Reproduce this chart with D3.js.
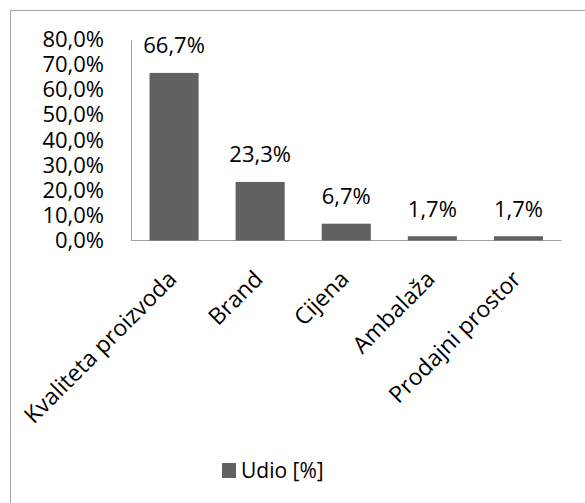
<!DOCTYPE html>
<html><head><meta charset="utf-8">
<script src="https://cdn.jsdelivr.net/npm/d3@7"></script>
<style>html,body{margin:0;padding:0;background:#fff;}svg{display:block;font-family:"Open Sans",sans-serif;}</style>
</head><body>
<svg id="c" width="585" height="503"></svg>
<script>
const categories = ["Kvaliteta proizvoda","Brand","Cijena","Ambalaža","Prodajni prostor"];
const values = [66.7, 23.3, 6.7, 1.7, 1.7];
const yTicks = [0,10,20,30,40,50,60,70,80];
const seriesName = "Udio [%]";

(function(){
const svg = d3.select("#c");
const fmt = v => d3.format(".1f")(v).replace(".", ",") + "%";

// frame
svg.append("rect").attr("x",10.5).attr("y",10.5).attr("width",620).attr("height",520)
  .attr("fill","none").attr("stroke","#a6a6a6").attr("stroke-width",1);

const pl = 131, pr = 561.5, pt = 39.5, pb = 240.5;
const x = d3.scaleBand().domain(categories).range([pl,pr]).paddingInner(0.43).paddingOuter(0.215);
const y = d3.scaleLinear().domain([0,80]).range([pb, pt]);

// y axis labels
const yAxis = d3.axisLeft(y).tickValues(yTicks).tickFormat(fmt).tickSize(0).tickPadding(27);
const gy = svg.append("g").attr("transform",`translate(${pl},0)`).call(yAxis);
gy.select(".domain").remove();
gy.selectAll("text").attr("font-size",22).attr("fill","#000").attr("font-family","'Open Sans',sans-serif");

// axis lines
svg.append("line").attr("x1",pl+0.5).attr("x2",pl+0.5).attr("y1",pt+1).attr("y2",pb).attr("stroke","#a0a0a0");
svg.append("line").attr("x1",pl).attr("x2",pr).attr("y1",pb).attr("y2",pb).attr("stroke","#a0a0a0");

// bars
svg.selectAll("rect.bar").data(values).join("rect").attr("class","bar")
  .attr("x",(d,i)=>x(categories[i])).attr("width",x.bandwidth())
  .attr("y",d=>y(d)).attr("height",d=>pb - y(d)).attr("fill","#616161");

// data labels
svg.selectAll("text.lbl").data(values).join("text").attr("class","lbl")
  .attr("x",(d,i)=>x(categories[i])+x.bandwidth()/2).attr("y",d=>y(d)-19.5)
  .attr("text-anchor","middle").attr("font-size",22).attr("fill","#000").text(fmt);

// x labels rotated
const xAxis = d3.axisBottom(x).tickSize(0).tickPadding(0);
const gx = svg.append("g").attr("transform",`translate(0,${pb})`).call(xAxis);
gx.select(".domain").remove();
gx.selectAll("text").attr("font-size",23).attr("fill","#000").attr("font-family","'Open Sans',sans-serif")
  .attr("text-anchor","end").attr("y",0).attr("dy",0)
  .attr("transform","translate(4,40) rotate(-45)");

// legend
const lg = svg.append("g");
lg.append("rect").attr("x",222).attr("y",463).attr("width",14).attr("height",15).attr("fill","#616161");
lg.append("text").attr("x",241).attr("y",470).attr("dy","0.36em").attr("font-size",21).attr("fill","#000").text(seriesName);
})();
</script>
</body></html>
